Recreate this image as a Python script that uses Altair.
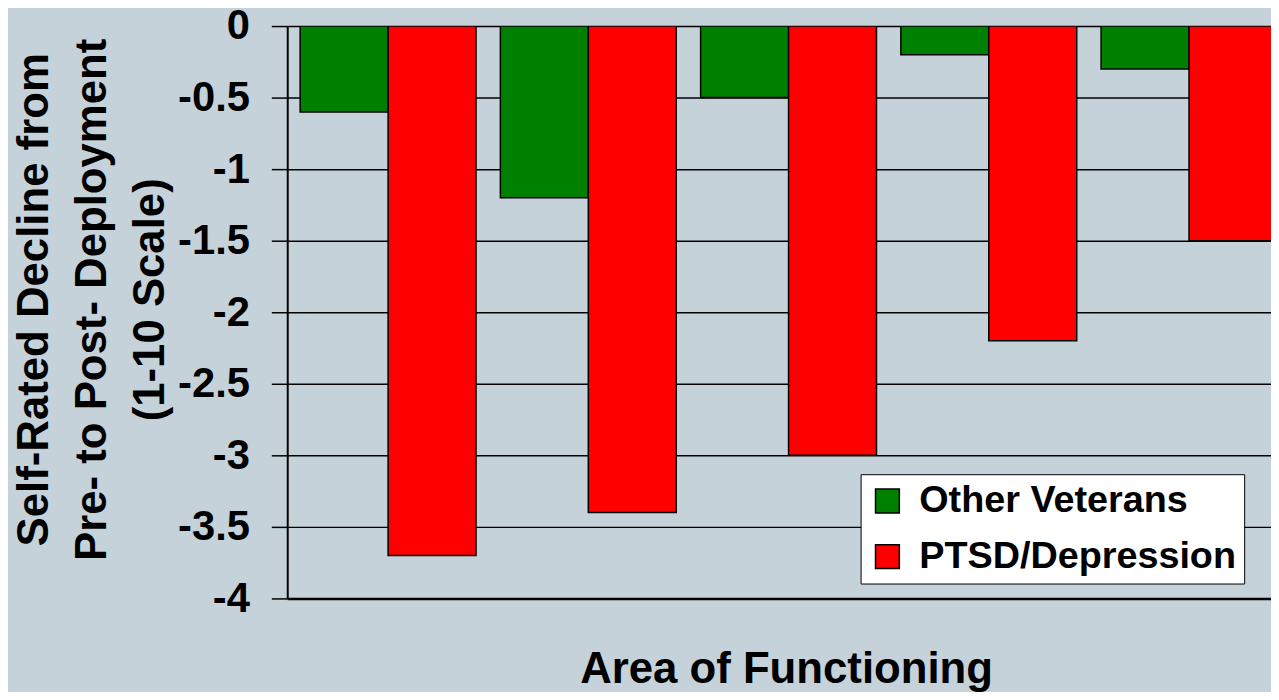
import altair as alt
import pandas as pd

areas = ["Area 1", "Area 2", "Area 3", "Area 4", "Area 5"]
groups = ["Other Veterans", "PTSD/Depression"]
other_veterans = [-0.6, -1.2, -0.5, -0.2, -0.3]
ptsd_depression = [-3.7, -3.4, -3.0, -2.2, -1.5]
y_ticks = [0, -0.5, -1, -1.5, -2, -2.5, -3, -3.5, -4]

rows = []
for a, v in zip(areas, other_veterans):
    rows.append({"area": a, "group": groups[0], "value": v})
for a, v in zip(areas, ptsd_depression):
    rows.append({"area": a, "group": groups[1], "value": v})
df = pd.DataFrame(rows)

FONT = "Liberation Sans"
BG = "#C6D2D9"

chart = alt.Chart(df).mark_bar(clip=True, stroke="black", strokeWidth=1.5).encode(
    x=alt.X(
        "area:N",
        sort=areas,
        scale=alt.Scale(range=[0, 1009], paddingInner=0.1216, paddingOuter=0.0645),
        axis=alt.Axis(
            title="Area of Functioning",
            labels=False,
            ticks=False,
            domain=True,
            domainColor="black",
            domainWidth=2.5,
            titleFont=FONT,
            titleFontSize=44,
            titleFontWeight="bold",
            titleColor="black",
            titleX=502,
            titleY=72,
            titleBaseline="middle",
            titleAlign="center",
        ),
    ),
    xOffset=alt.XOffset("group:N", sort=groups, scale=alt.Scale(paddingInner=0, paddingOuter=0)),
    y=alt.Y(
        "value:Q",
        scale=alt.Scale(domain=[-4, 0], nice=False),
        axis=alt.Axis(
            title=["Self-Rated Decline from", "Pre- to Post- Deployment", "(1-10 Scale)"],
            values=y_ticks,
            labelExpr="toString(datum.value)",
            labelFont=FONT,
            labelFontSize=42,
            labelFontWeight="bold",
            labelColor="black",
            labelPadding=22,
            tickColor="black",
            tickSize=16,
            tickWidth=1.5,
            domainColor="black",
            domainWidth=2,
            grid=True,
            gridColor="black",
            gridWidth=1.5,
            titleFont=FONT,
            titleFontSize=44,
            titleFontWeight="bold",
            titleColor="black",
            titleAngle=270,
            titleAlign="center",
            titleBaseline="middle",
            titleLineHeight=58,
            titleX=-254,
            titleY=275,
        ),
    ),
    color=alt.Color(
        "group:N",
        sort=groups,
        scale=alt.Scale(domain=groups, range=["#008000", "#FF0000"]),
        legend=alt.Legend(
            title=None,
            orient="none",
            legendX=577,
            legendY=451,
            direction="vertical",
            fillColor="white",
            strokeColor="black",
            padding=8,
            symbolType="square",
            symbolSize=576,
            symbolStrokeColor="black",
            symbolStrokeWidth=1.5,
            labelFont=FONT,
            labelFontSize=38,
            labelFontWeight="bold",
            labelColor="black",
            labelOffset=13,
            labelLimit=500,
            rowPadding=18,
        ),
    ),
).properties(
    width=990,
    height=576,
    background=BG,
    padding={"left": 281, "top": 16, "right": 0, "bottom": 92},
    autosize=alt.AutoSizeParams(type="none"),
).configure_view(stroke=None)

chart.save("out.html", embed_options={"renderer": "svg", "actions": False})
